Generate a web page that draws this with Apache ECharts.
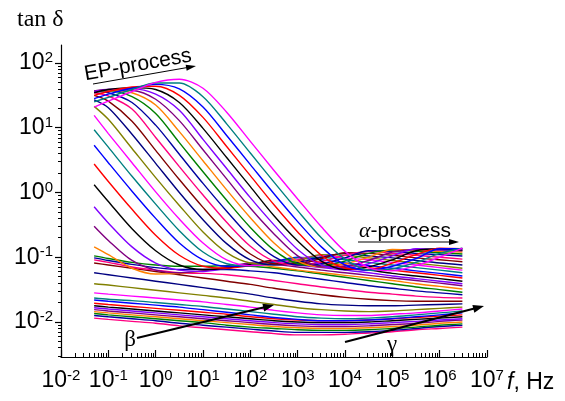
<!DOCTYPE html>
<html><head><meta charset="utf-8">
<script src="https://cdn.jsdelivr.net/npm/echarts@6/dist/echarts.min.js"></script>
<style>html,body{margin:0;padding:0;background:#fff}#c{width:565px;height:401px}</style>
</head><body><div id="c"></div>
<script>
// log10 of frequency (Hz) at which each curve was read
const lgFreq = [-1.3,-1,-0.5,0,0.5,1,1.5,2,2.5,3,3.5,4,4.5,5,5.5,6,6.48];
// log10(tan delta) of each curve, lowest temperature first
const c00 = [-1.94,-1.96,-1.99,-2.02,-2.06,-2.09,-2.12,-2.15,-2.18,-2.20,-2.20,-2.19,-2.17,-2.15,-2.12,-2.10,-2.08];
const c01 = [-1.90,-1.92,-1.95,-1.98,-2.02,-2.05,-2.08,-2.11,-2.14,-2.16,-2.16,-2.16,-2.15,-2.13,-2.10,-2.07,-2.05];
const c02 = [-1.87,-1.89,-1.92,-1.95,-1.98,-2.01,-2.05,-2.08,-2.10,-2.12,-2.13,-2.13,-2.12,-2.10,-2.08,-2.05,-2.03];
const c03 = [-1.84,-1.86,-1.89,-1.92,-1.95,-1.98,-2.01,-2.04,-2.07,-2.09,-2.10,-2.10,-2.09,-2.07,-2.05,-2.02,-2.00];
const c04 = [-1.81,-1.83,-1.86,-1.89,-1.92,-1.95,-1.98,-2.01,-2.04,-2.06,-2.07,-2.07,-2.06,-2.04,-2.02,-1.99,-1.97];
const c05 = [-1.78,-1.80,-1.83,-1.86,-1.89,-1.92,-1.95,-1.98,-2.01,-2.03,-2.04,-2.04,-2.03,-2.01,-1.99,-1.97,-1.95];
const c06 = [-1.75,-1.77,-1.80,-1.83,-1.86,-1.89,-1.92,-1.95,-1.98,-2.00,-2.01,-2.01,-2.00,-1.98,-1.96,-1.94,-1.92];
const c07 = [-1.71,-1.73,-1.76,-1.79,-1.82,-1.85,-1.88,-1.92,-1.95,-1.97,-1.98,-1.98,-1.97,-1.95,-1.93,-1.91,-1.89];
const c08 = [-1.66,-1.68,-1.71,-1.74,-1.77,-1.81,-1.85,-1.89,-1.93,-1.96,-1.98,-1.98,-1.97,-1.95,-1.92,-1.89,-1.86];
const c09 = [-1.63,-1.65,-1.67,-1.70,-1.73,-1.76,-1.80,-1.84,-1.88,-1.92,-1.94,-1.95,-1.94,-1.92,-1.89,-1.86,-1.83];
const c10 = [-1.55,-1.57,-1.60,-1.63,-1.66,-1.69,-1.73,-1.77,-1.82,-1.86,-1.89,-1.90,-1.90,-1.88,-1.86,-1.83,-1.80];
const c11 = [-1.41,-1.43,-1.47,-1.51,-1.55,-1.59,-1.63,-1.68,-1.73,-1.78,-1.81,-1.83,-1.84,-1.83,-1.81,-1.79,-1.77];
const c12 = [-1.24,-1.27,-1.32,-1.37,-1.42,-1.47,-1.52,-1.57,-1.63,-1.68,-1.72,-1.74,-1.75,-1.75,-1.74,-1.73,-1.72];
const c13 = [-1.09,-1.12,-1.17,-1.22,-1.27,-1.32,-1.37,-1.42,-1.48,-1.53,-1.58,-1.62,-1.65,-1.67,-1.68,-1.68,-1.68];
const c14 = [-1.04,-1.08,-1.15,-1.20,-1.24,-1.25,-1.27,-1.31,-1.36,-1.41,-1.46,-1.50,-1.54,-1.57,-1.60,-1.62,-1.63];
const c15 = [-1.01,-1.05,-1.11,-1.16,-1.19,-1.19,-1.19,-1.21,-1.24,-1.29,-1.34,-1.39,-1.44,-1.48,-1.52,-1.55,-1.58];
const c16 = [-0.98,-1.02,-1.08,-1.12,-1.14,-1.14,-1.13,-1.14,-1.17,-1.21,-1.26,-1.31,-1.36,-1.41,-1.46,-1.50,-1.54];
const c17 = [-0.84,-0.96,-1.17,-1.26,-1.25,-1.21,-1.15,-1.11,-1.15,-1.20,-1.24,-1.28,-1.32,-1.36,-1.41,-1.45,-1.49];
const c18 = [-0.52,-0.74,-1.05,-1.20,-1.24,-1.21,-1.16,-1.09,-1.11,-1.15,-1.20,-1.24,-1.28,-1.32,-1.36,-1.40,-1.44];
const c19 = [-0.22,-0.47,-0.84,-1.09,-1.20,-1.22,-1.17,-1.11,-1.08,-1.12,-1.16,-1.20,-1.24,-1.29,-1.33,-1.37,-1.41];
const c20 = [0.12,-0.14,-0.56,-0.90,-1.12,-1.19,-1.17,-1.11,-1.05,-1.08,-1.12,-1.16,-1.20,-1.25,-1.29,-1.33,-1.37];
const c21 = [0.44,0.17,-0.26,-0.66,-0.97,-1.14,-1.17,-1.13,-1.06,-1.04,-1.08,-1.12,-1.16,-1.20,-1.24,-1.28,-1.32];
const c22 = [0.73,0.46,0.02,-0.40,-0.78,-1.04,-1.14,-1.13,-1.07,-1.00,-1.04,-1.09,-1.13,-1.17,-1.21,-1.25,-1.29];
const c23 = [0.97,0.70,0.25,-0.18,-0.59,-0.92,-1.10,-1.13,-1.09,-1.01,-1.00,-1.04,-1.08,-1.12,-1.16,-1.20,-1.24];
const c24 = [1.19,0.91,0.46,0.01,-0.41,-0.78,-1.04,-1.13,-1.10,-1.03,-0.97,-1.01,-1.04,-1.08,-1.12,-1.16,-1.20];
const c25 = [1.33,1.13,0.68,0.23,-0.20,-0.61,-0.93,-1.09,-1.11,-1.05,-0.96,-0.97,-1.01,-1.05,-1.09,-1.13,-1.17];
const c26 = [1.43,1.31,0.90,0.45,0.00,-0.42,-0.79,-1.04,-1.12,-1.08,-1.00,-0.94,-0.98,-1.01,-1.05,-1.09,-1.12];
const c27 = [1.50,1.41,1.10,0.65,0.20,-0.23,-0.63,-0.95,-1.10,-1.10,-1.02,-0.93,-0.94,-0.97,-1.01,-1.04,-1.07];
const c28 = [1.54,1.49,1.29,0.85,0.40,-0.04,-0.46,-0.83,-1.06,-1.12,-1.07,-0.97,-0.91,-0.94,-0.97,-1.00,-1.03];
const c29 = [1.56,1.54,1.39,1.04,0.59,0.14,-0.29,-0.69,-0.99,-1.12,-1.10,-1.01,-0.90,-0.91,-0.94,-0.96,-0.98];
const c30 = [1.57,1.57,1.48,1.22,0.77,0.32,-0.12,-0.54,-0.89,-1.10,-1.13,-1.06,-0.94,-0.89,-0.91,-0.93,-0.95];
const c31 = [1.57,1.58,1.54,1.35,0.94,0.49,0.04,-0.39,-0.78,-1.06,-1.15,-1.10,-1.00,-0.88,-0.89,-0.91,-0.92];
const c32 = [1.57,1.59,1.58,1.44,1.11,0.66,0.21,-0.24,-0.64,-0.98,-1.15,-1.14,-1.05,-0.92,-0.88,-0.89,-0.90];
const c33 = [1.56,1.59,1.60,1.52,1.27,0.82,0.37,-0.08,-0.50,-0.88,-1.12,-1.17,-1.10,-0.98,-0.87,-0.88,-0.89];
const c34 = [1.54,1.59,1.62,1.59,1.39,0.99,0.54,0.09,-0.36,-0.75,-1.06,-1.19,-1.15,-1.04,-0.90,-0.87,-0.89];
const c35 = [1.50,1.56,1.63,1.64,1.50,1.16,0.71,0.26,-0.19,-0.61,-0.97,-1.17,-1.19,-1.09,-0.96,-0.86,-0.87];
const c36 = [1.45,1.52,1.61,1.67,1.60,1.32,0.88,0.43,-0.02,-0.45,-0.84,-1.12,-1.20,-1.14,-1.02,-0.87,-0.87];
const c37 = [1.40,1.47,1.59,1.69,1.69,1.48,1.06,0.61,0.16,-0.28,-0.70,-1.03,-1.20,-1.18,-1.08,-0.94,-0.86];
const c38 = [1.32,1.41,1.56,1.70,1.75,1.61,1.24,0.79,0.34,-0.10,-0.53,-0.91,-1.16,-1.21,-1.13,-1.00,-0.86];
const curves = [c00,c01,c02,c03,c04,c05,c06,c07,c08,c09,c10,c11,c12,c13,c14,c15,c16,c17,c18,c19,
  c20,c21,c22,c23,c24,c25,c26,c27,c28,c29,c30,c31,c32,c33,c34,c35,c36,c37,c38];
// tick decades (exponents)
const xDecades = [-2,-1,0,1,2,3,4,5,6,7];
const yDecades = [-2,-1,0,1,2];

// styling
const palette = ['#FF0080','#0000A0','#008000','#FF8000','#800080','#8000FF','#000000',
  '#FF0000','#0000FF','#008080','#FF00FF','#808000','#000080','#800000'];
const X_MIN = -2, X_MAX = 7, Y_MIN = -2.541, Y_MAX = 2.278;

function minors(lo, hi) {
  const out = [];
  for (let n = Math.floor(lo) - 1; n <= Math.ceil(hi); n++) {
    for (let m = 2; m <= 9; m++) {
      const v = n + Math.log10(m);
      if (v >= lo && v <= hi) out.push(v);
    }
  }
  return out;
}
const supLabel = v => '{b|10}{s|' + v + '}';
const richLbl = {
  b: { fontFamily: 'Liberation Sans', fontSize: 23, lineHeight: 25, color: '#000' },
  s: { fontFamily: 'Liberation Sans', fontSize: 15, lineHeight: 15, verticalAlign: 'top', color: '#000' }
};

const series = curves.map((c, k) => ({
  type: 'line', xAxisIndex: 0, yAxisIndex: 0,
  data: lgFreq.map((f, i) => [f, c[i]]),
  showSymbol: false, symbol: 'none', smooth: 0.3,
  lineStyle: { width: 1.4, color: palette[k % palette.length] },
  silent: true, animation: false, z: 2
}));

function arrow(x1, y1, x2, y2, w, head, hw) {
  const dx = x2 - x1, dy = y2 - y1, L = Math.hypot(dx, dy), ux = dx / L, uy = dy / L;
  const bx = x2 - ux * head, by = y2 - uy * head;
  return [
    { type: 'line', shape: { x1: x1, y1: y1, x2: bx + ux, y2: by + uy }, style: { stroke: '#000', lineWidth: w }, z: 10 },
    { type: 'polygon', shape: { points: [[x2, y2], [bx - uy * hw, by + ux * hw], [bx + uy * hw, by - ux * hw]] }, style: { fill: '#000' }, z: 10 }
  ];
}

const chart = echarts.init(document.getElementById('c'), null, { renderer: 'canvas' });
chart.setOption({
  animation: false,
  backgroundColor: '#fff',
  grid: { left: 61, right: 78, top: 45, bottom: 44, containLabel: false },
  xAxis: [
    { type: 'value', min: X_MIN, max: X_MAX, position: 'bottom',
      axisLine: { show: true, onZero: false, lineStyle: { color: '#000', width: 1.2 } },
      axisTick: { show: true, inside: true, length: 7, customValues: xDecades, lineStyle: { color: '#000', width: 1.2 } },
      axisLabel: { show: true, margin: 11, customValues: xDecades, formatter: supLabel, rich: richLbl },
      splitLine: { show: false } },
    { type: 'value', min: X_MIN, max: X_MAX, position: 'bottom', offset: 0,
      axisLine: { show: false, onZero: false },
      axisTick: { show: true, inside: true, length: 4, customValues: minors(X_MIN, X_MAX), lineStyle: { color: '#000', width: 1 } },
      axisLabel: { show: false }, splitLine: { show: false } }
  ],
  yAxis: [
    { type: 'value', min: Y_MIN, max: Y_MAX, position: 'left',
      axisLine: { show: true, onZero: false, lineStyle: { color: '#000', width: 1.2 } },
      axisTick: { show: true, inside: false, length: 6, customValues: yDecades, lineStyle: { color: '#000', width: 1.2 } },
      axisLabel: { show: true, margin: 8, customValues: yDecades, formatter: supLabel, rich: richLbl },
      splitLine: { show: false } },
    { type: 'value', min: Y_MIN, max: Y_MAX, position: 'left', offset: 0,
      axisLine: { show: false, onZero: false },
      axisTick: { show: true, inside: false, length: 3, customValues: minors(Y_MIN, Y_MAX), lineStyle: { color: '#000', width: 1 } },
      axisLabel: { show: false }, splitLine: { show: false } }
  ],
  series: series,
  graphic: [
    { type: 'text', x: 17, y: 20, z: 10, style: { text: 'tan δ', font: '24px "Liberation Serif"', fill: '#000', align: 'left', verticalAlign: 'middle' } },
    { type: 'text', x: 507, y: 383, z: 10, style: { text: '{i|f}{n|, Hz}', verticalAlign: 'middle', align: 'left',
      rich: { i: { fontFamily: 'Liberation Sans', fontStyle: 'italic', fontSize: 23, fill: '#000' },
              n: { fontFamily: 'Liberation Sans', fontSize: 23, fill: '#000' } } } },
    { type: 'text', x: 138, y: 65, rotation: 0.175, z: 10, style: { text: 'EP-process', font: '21px "Liberation Sans"', fill: '#000', align: 'center', verticalAlign: 'middle' } },
    ...arrow(93, 84, 196, 66, 1, 10, 3),
    { type: 'text', x: 405, y: 231, z: 10, style: { text: '{a|α}{p|-process}', align: 'center', verticalAlign: 'middle',
      rich: { a: { fontFamily: 'Liberation Serif', fontStyle: 'italic', fontSize: 22, fill: '#000' },
              p: { fontFamily: 'Liberation Sans', fontSize: 21, fill: '#000' } } } },
    ...arrow(358, 242, 459, 242, 1.2, 10, 3),
    { type: 'text', x: 130, y: 340, z: 10, style: { text: 'β', font: '23px "Liberation Serif"', fill: '#000', align: 'center', verticalAlign: 'middle' } },
    ...arrow(137, 338, 274, 305, 2, 11, 4),
    { type: 'text', x: 392, y: 345, z: 10, style: { text: 'γ', font: '23px "Liberation Serif"', fill: '#000', align: 'center', verticalAlign: 'middle' } },
    ...arrow(345, 342, 484, 306, 2, 11, 4)
  ]
});
</script>
</body></html>
